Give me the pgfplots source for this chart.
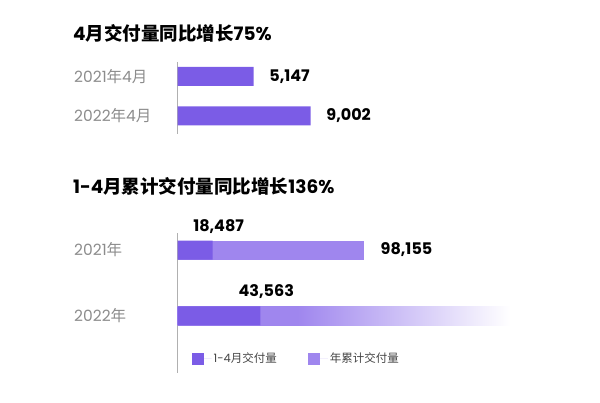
\documentclass[border=0pt]{standalone}
\usepackage{pgfplots}
\pgfplotsset{compat=1.18}
\usepackage{fontspec}
\setmainfont{Poppins}
\newfontfamily\cjk{Noto Sans CJK SC}
\newcommand{\C}[1]{{\cjk #1}}
\definecolor{dk}{HTML}{7B5CE6}
\definecolor{lt}{HTML}{9F86EE}
\definecolor{lab}{HTML}{8C8C8C}
\definecolor{leg}{HTML}{444444}
\definecolor{axl}{HTML}{B0B0B0}
\pgfdeclarehorizontalshading{fade}{100bp}{color(0bp)=(lt); color(25bp)=(lt); color(43bp)=(lt); color(75bp)=(white); color(100bp)=(white)}
\begin{document}
\begin{tikzpicture}
\useasboundingbox (0pt,0pt) rectangle (600pt,402pt);
% titles
\node[anchor=west, inner sep=0pt, font=\bfseries\fontsize{18.5}{20}\selectfont] at (73pt,369pt) {4\C{月交付量同比增长}75\%};
\node[anchor=west, inner sep=0pt, font=\bfseries\fontsize{18.5}{20}\selectfont] at (73pt,216pt) {1-4\C{月累计交付量同比增长}136\%};
% category labels
\begin{scope}[every node/.style={anchor=west, inner sep=0pt, text=lab, font=\fontsize{15.5}{16}\selectfont}]
\node at (74pt,325.5pt) {2021\C{年}4\C{月}};
\node at (74pt,286pt) {2022\C{年}4\C{月}};
\node at (74pt,152pt) {2021\C{年}};
\node at (74pt,86pt) {2022\C{年}};
\end{scope}
% top chart
\begin{axis}[at={(177.5pt,268pt)}, anchor=south west, scale only axis,
  width=148pt, height=72pt, xmin=0, xmax=10000, ymin=-0.367, ymax=1.456,
  y dir=reverse, hide x axis, axis y line*=left, ytick=\empty,
  y axis line style={-, draw=axl, line width=0.8pt},
  xbar, bar width=19pt, clip=false]
\addplot[fill=dk, draw=none, nodes near coords, point meta=explicit symbolic,
  nodes near coords style={anchor=west, inner sep=0pt, xshift=15.5pt, text=black, font=\bfseries\fontsize{16}{16}\selectfont}]
  table[meta=lab, row sep=\\] {x y lab\\ 5147 0 5,147\\ 9002 1 9,002\\};
\end{axis}
% bottom chart
\begin{axis}[at={(177.5pt,29pt)}, anchor=south west, scale only axis,
  width=342pt, height=140pt, xmin=0, xmax=180000, ymin=-0.258, ymax=1.864,
  y dir=reverse, hide x axis, axis y line*=left, ytick=\empty,
  y axis line style={-, draw=axl, line width=0.8pt},
  xbar, bar width=19pt, bar shift=0pt, clip=false,
  legend columns=2, reverse legend,
  legend image code/.code={\fill[#1] (0pt,-6pt) rectangle (12pt,6pt); \path (12pt,0pt) -- (20pt,0pt);},
  legend style={at={(axis description cs:0.041,0.102)}, anchor=west, draw=none, fill=none,
    inner sep=0pt, font=\fontsize{11.5}{12}\selectfont, text=leg, cells={anchor=west},
    /tikz/every even column/.append style={column sep=29pt}}]
\addplot[fill=lt, draw=none, nodes near coords, point meta=explicit symbolic,
  nodes near coords style={anchor=west, inner sep=0pt, xshift=16.5pt, text=black, font=\bfseries\fontsize{16}{16}\selectfont}]
  table[meta=lab, row sep=\\] {x y lab\\ 98155 0 98,155\\};
\addlegendentry{\C{年累计交付量}}
\addplot[shade, shading=fade, draw=none, forget plot]
  table[row sep=\\] {x y\\ 175000 1\\};
\addplot[fill=dk, draw=none, nodes near coords, point meta=explicit symbolic,
  nodes near coords style={anchor=base, inner sep=0pt, xshift=6pt, yshift=19pt, text=black, font=\bfseries\fontsize{16}{16}\selectfont}]
  table[meta=lab, row sep=\\] {x y lab\\ 18487 0 18,487\\ 43563 1 43,563\\};
\addlegendentry{1-4\C{月交付量}}
\end{axis}
\end{tikzpicture}
\end{document}
